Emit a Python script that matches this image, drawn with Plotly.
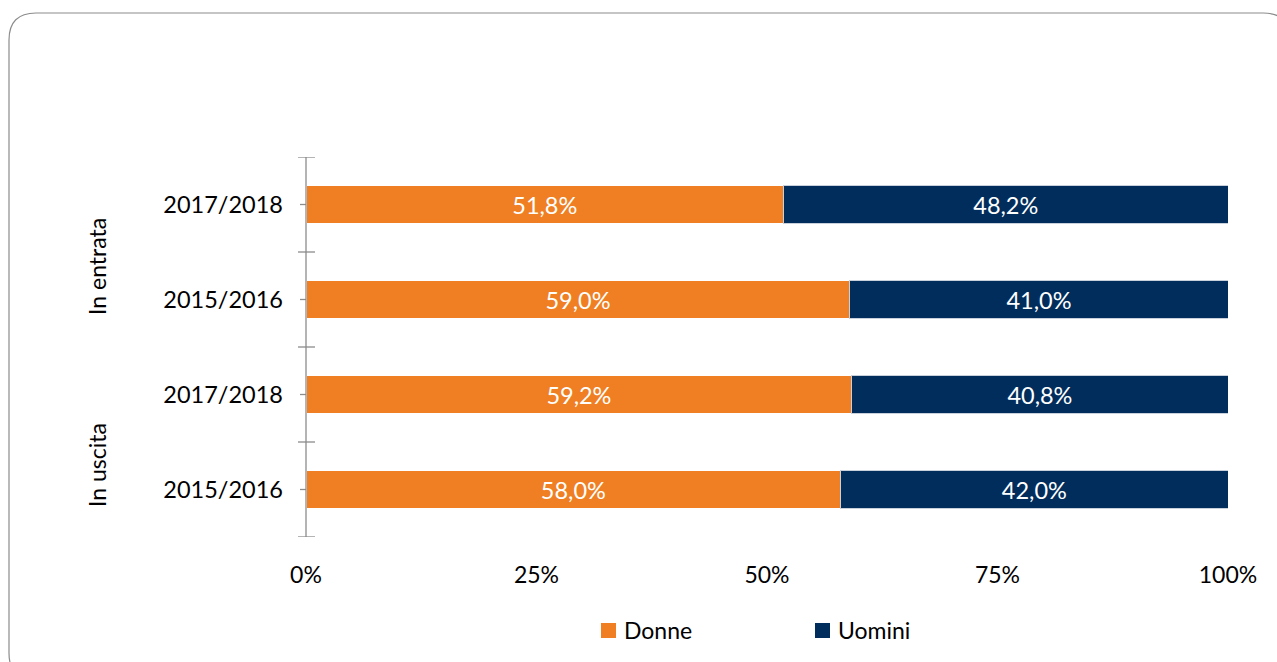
import plotly.graph_objects as go

# Data (bottom to top order)
groups = ["In uscita", "In uscita", "In entrata", "In entrata"]
periods = ["2015/2016", "2017/2018", "2015/2016", "2017/2018"]
donne = [58.0, 59.2, 59.0, 51.8]
uomini = [42.0, 40.8, 41.0, 48.2]
x_ticks = [0, 25, 50, 75, 100]
x_tick_labels = ["0%", "25%", "50%", "75%", "100%"]
series_names = ["Donne", "Uomini"]

ORANGE = "#EF7F22"
NAVY = "#002D5C"
FONT = "Lato"

W, H = 1277, 662
L, R, T, B = 306, 1228, 157, 537  # plot area pixels

def px(x):
    return (x - L) / (R - L)

def py(y):
    return (B - y) / (B - T)

ypos = list(range(len(periods)))

def fmt(v):
    return f"{v:.1f}".replace(".", ",") + "%"

fig = go.Figure()
fig.add_trace(go.Bar(
    y=ypos, x=donne, orientation="h", name=series_names[0],
    marker=dict(color=ORANGE, line=dict(color="#FFFFFF", width=1)),
    text=[fmt(v) for v in donne], textposition="inside", insidetextanchor="middle",
    textfont=dict(color="white", size=23.5, family=FONT), width=0.41,
    hoverinfo="skip", showlegend=False,
))
fig.add_trace(go.Bar(
    y=ypos, x=uomini, orientation="h", name=series_names[1],
    marker=dict(color=NAVY, line=dict(color="#C8D0DC", width=1)),
    text=[fmt(v) for v in uomini], textposition="inside", insidetextanchor="middle",
    textfont=dict(color="white", size=23.5, family=FONT), width=0.41,
    hoverinfo="skip", showlegend=False,
))

shapes = []
# rounded border
x0, y0, x1, y1 = px(9), py(13), px(1290), py(680)
rx = 27 / (R - L)
ry = 27 / (B - T)
path = (f"M {x0+rx},{y0} L {x1-rx},{y0} Q {x1},{y0} {x1},{y0-ry} "
        f"L {x1},{y1+ry} Q {x1},{y1} {x1-rx},{y1} L {x0+rx},{y1} "
        f"Q {x0},{y1} {x0},{y1+ry} L {x0},{y0-ry} Q {x0},{y0} {x0+rx},{y0} Z")
shapes.append(dict(type="path", path=path, xref="paper", yref="paper",
                   line=dict(color="#8C8C8C", width=1.2), layer="below"))
# axis line
shapes.append(dict(type="line", xref="paper", yref="y", x0=0, x1=0, y0=-0.5, y1=len(periods) - 0.5,
                   line=dict(color="#8C8C8C", width=1.3)))
# boundary ticks (crossing)
for i in range(len(periods) + 1):
    shapes.append(dict(type="line", xref="paper", yref="y", x0=px(298), x1=px(315),
                       y0=i - 0.5, y1=i - 0.5, line=dict(color="#8C8C8C", width=1.3)))
# center ticks (outside)
for i in ypos:
    shapes.append(dict(type="line", xref="paper", yref="y", x0=px(300), x1=0,
                       y0=i, y1=i, line=dict(color="#8C8C8C", width=1.3)))

# legend (manual, to match square size)
legend_colors = [ORANGE, NAVY]
legend_sq_left = [601, 815]
for name, col, sx in zip(series_names, legend_colors, legend_sq_left):
    shapes.append(dict(type="rect", xref="paper", yref="paper",
                       x0=px(sx), x1=px(sx + 15), y0=py(638), y1=py(623),
                       fillcolor=col, line=dict(width=0)))

annotations = [
    dict(text="In entrata", x=px(97), y=py(267), xref="paper", yref="paper", showarrow=False,
         xanchor="center", yanchor="middle",
         textangle=-90, font=dict(size=23, color="#000000", family=FONT)),
    dict(text="In uscita", x=px(97), y=py(465), xref="paper", yref="paper", showarrow=False,
         xanchor="center", yanchor="middle",
         textangle=-90, font=dict(size=23, color="#000000", family=FONT)),
]
for name, sx in zip(series_names, legend_sq_left):
    annotations.append(dict(text=name, x=px(sx + 21), y=py(630), xref="paper", yref="paper",
                            showarrow=False, xanchor="left", yanchor="middle",
                            font=dict(size=23, color="#000000", family=FONT)))

fig.update_layout(
    width=W, height=H,
    margin=dict(l=L, r=W - R, t=T, b=H - B),
    paper_bgcolor="white", plot_bgcolor="white",
    barmode="stack", bargap=0.6,
    font=dict(family=FONT, size=23, color="#000000"),
    shapes=shapes, annotations=annotations,
    xaxis=dict(range=[0, 100], tickvals=x_ticks, ticktext=x_tick_labels, showgrid=False,
               zeroline=False, showline=False, ticks="", ticklabelstandoff=22,
               tickfont=dict(size=23, family=FONT, color="#000000"), fixedrange=True),
    yaxis=dict(range=[-0.5, len(periods) - 0.5], tickvals=ypos, ticktext=periods,
               showgrid=False, zeroline=False, showline=False, ticks="",
               ticklabelstandoff=22,
               tickfont=dict(size=23.5, family=FONT, color="#000000"), fixedrange=True),
    showlegend=False,
)

fig.write_html("out.html", config={"displayModeBar": False})
